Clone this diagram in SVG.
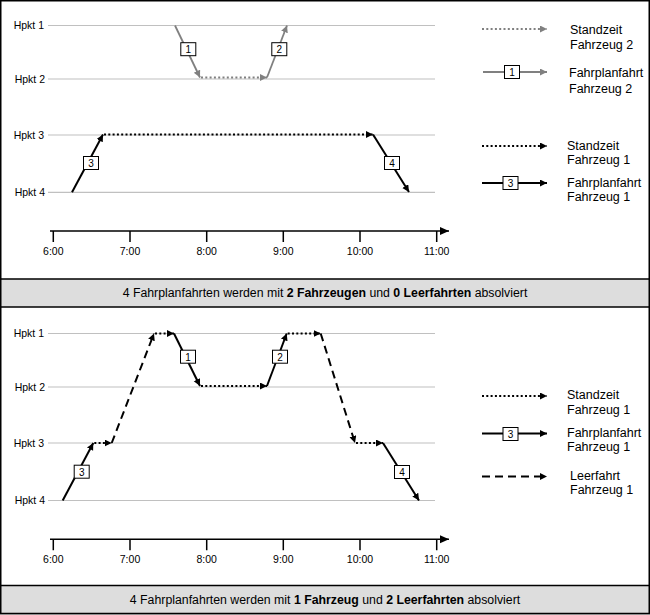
<svg xmlns="http://www.w3.org/2000/svg" width="650" height="615" viewBox="0 0 650 615">
<defs>
<style>
text{font-family:"Liberation Sans",Arial,sans-serif;fill:#000}
.hp{font-size:10.5px;text-anchor:end}
.tk{font-size:10.5px;text-anchor:middle}
.lg{font-size:12.5px}
.cap{font-size:12.3px;text-anchor:middle}
.num{font-size:10px;text-anchor:middle}
.grid{stroke:#c0c0c0;stroke-width:1.2;fill:none}
.axis{stroke:#000;stroke-width:1.5;fill:none}
.g{stroke:#808080;stroke-width:1.8;fill:none;marker-end:url(#ag)}
.b{stroke:#000;stroke-width:2;fill:none;marker-end:url(#ab)}
.gs{stroke:#808080;stroke-width:1.8;fill:none}
.bs{stroke:#000;stroke-width:2;fill:none}
.dot{stroke-dasharray:2 2.3}
.dash{stroke-dasharray:8 5}
.box{fill:#fff;stroke:#000;stroke-width:1}
</style>
<marker id="ag" markerUnits="userSpaceOnUse" markerWidth="8" markerHeight="8" refX="7" refY="3.5" orient="auto"><path d="M0,0 L7,3.5 L0,7 z" fill="#808080"/></marker>
<marker id="ab" markerUnits="userSpaceOnUse" markerWidth="8" markerHeight="8" refX="7" refY="3.5" orient="auto"><path d="M0,0 L7,3.5 L0,7 z" fill="#000"/></marker>
<marker id="ax" markerUnits="userSpaceOnUse" markerWidth="10" markerHeight="10" refX="9" refY="4" orient="auto"><path d="M0,0 L9,4 L0,8 z" fill="#000"/></marker>
</defs>

<g id="frame">
<rect x="0.75" y="0.75" width="648.5" height="612.75" fill="#fff" stroke="#000" stroke-width="1.5"/>
<rect x="0.75" y="279" width="648.5" height="28" fill="#dddddd" stroke="#000" stroke-width="1.5"/>
<rect x="0.75" y="585.5" width="648.5" height="28" fill="#dddddd" stroke="#000" stroke-width="1.5"/>
</g>

<!-- TOP CHART -->
<g id="top-grid">
<line class="grid" x1="48" y1="25.5" x2="435" y2="25.5"/>
<line class="grid" x1="48" y1="79" x2="435" y2="79"/>
<line class="grid" x1="48" y1="135" x2="435" y2="135"/>
<line class="grid" x1="48" y1="192.3" x2="435" y2="192.3"/>
<text class="hp" x="44" y="29.3">Hpkt 1</text>
<text class="hp" x="45" y="82.8">Hpkt 2</text>
<text class="hp" x="44" y="138.8">Hpkt 3</text>
<text class="hp" x="45" y="196">Hpkt 4</text>
</g>
<g id="top-axis">
<line class="axis" x1="50" y1="231" x2="449" y2="231" marker-end="url(#ax)"/>
<path class="axis" d="M53.3,231V242M130,231V242M206.7,231V242M283.3,231V242M360,231V242M436.7,231V242"/>
<text class="tk" x="53.3" y="255">6:00</text>
<text class="tk" x="130" y="255">7:00</text>
<text class="tk" x="206.7" y="255">8:00</text>
<text class="tk" x="283.3" y="255">9:00</text>
<text class="tk" x="360" y="255">10:00</text>
<text class="tk" x="436.7" y="255">11:00</text>
</g>
<g id="top-connectors">
<line class="g" x1="175" y1="25.5" x2="200" y2="77.5"/>
<line class="g dot" x1="201" y1="77.5" x2="267" y2="77.5"/>
<line class="g" x1="267" y1="77.5" x2="287" y2="25.5"/>
<line class="b" x1="72" y1="192.3" x2="103" y2="134.5"/>
<line class="b dot" x1="104" y1="134.5" x2="373" y2="134.5"/>
<line class="b" x1="373" y1="134.5" x2="409" y2="192"/>
</g>
<g id="top-f1"><rect class="box" x="180.8" y="42.7" width="15" height="13"/><text class="num" x="188.3" y="53">1</text></g>
<g id="top-f2"><rect class="box" x="271.8" y="42.7" width="15" height="13"/><text class="num" x="279.3" y="53">2</text></g>
<g id="top-f3"><rect class="box" x="83.5" y="156.5" width="15" height="13"/><text class="num" x="91" y="166.8">3</text></g>
<g id="top-f4"><rect class="box" x="384.5" y="156.5" width="15" height="13"/><text class="num" x="392" y="166.8">4</text></g>

<g id="top-legend">
<line class="g dot" x1="482" y1="29" x2="547" y2="29"/>
<text class="lg" x="570" y="33.5">Standzeit</text>
<text class="lg" x="570" y="48.5">Fahrzeug 2</text>
<line class="g" x1="483" y1="72" x2="547" y2="72"/>
<rect class="box" x="504.5" y="65.5" width="15" height="13"/><text class="num" x="512" y="75.8">1</text>
<text class="lg" x="569" y="77">Fahrplanfahrt</text>
<text class="lg" x="569" y="92.5">Fahrzeug 2</text>
<line class="b dot" x1="482" y1="146" x2="547" y2="146"/>
<text class="lg" x="567" y="149.5">Standzeit</text>
<text class="lg" x="567" y="164">Fahrzeug 1</text>
<line class="b" x1="482" y1="183" x2="547" y2="183"/>
<rect class="box" x="503" y="176.5" width="15" height="13"/><text class="num" x="510.5" y="186.8">3</text>
<text class="lg" x="567" y="187">Fahrplanfahrt</text>
<text class="lg" x="567" y="201">Fahrzeug 1</text>
</g>

<g id="caption-top">
<text class="cap" x="325" y="297">4 Fahrplanfahrten werden mit <tspan font-weight="bold">2 Fahrzeugen</tspan> und <tspan font-weight="bold">0 Leerfahrten</tspan> absolviert</text>
</g>

<!-- BOTTOM CHART -->
<g id="bottom-grid">
<line class="grid" x1="48" y1="333.5" x2="435" y2="333.5"/>
<line class="grid" x1="48" y1="387" x2="435" y2="387"/>
<line class="grid" x1="48" y1="443" x2="435" y2="443"/>
<line class="grid" x1="48" y1="500.5" x2="435" y2="500.5"/>
<text class="hp" x="44" y="337.3">Hpkt 1</text>
<text class="hp" x="45" y="390.8">Hpkt 2</text>
<text class="hp" x="44" y="446.8">Hpkt 3</text>
<text class="hp" x="45" y="504.2">Hpkt 4</text>
</g>
<g id="bottom-axis">
<line class="axis" x1="50" y1="539.3" x2="449" y2="539.3" marker-end="url(#ax)"/>
<path class="axis" d="M53.3,539.3V550.3M130,539.3V550.3M206.7,539.3V550.3M283.3,539.3V550.3M360,539.3V550.3M436.7,539.3V550.3"/>
<text class="tk" x="53.3" y="563.3">6:00</text>
<text class="tk" x="130" y="563.3">7:00</text>
<text class="tk" x="206.7" y="563.3">8:00</text>
<text class="tk" x="283.3" y="563.3">9:00</text>
<text class="tk" x="360" y="563.3">10:00</text>
<text class="tk" x="436.7" y="563.3">11:00</text>
</g>
<g id="bottom-connectors">
<line class="b" x1="62.7" y1="500.5" x2="93.3" y2="443"/>
<line class="b dot" x1="94.3" y1="443" x2="111.7" y2="443"/>
<line class="b dash" x1="111.7" y1="443" x2="154" y2="333.5"/>
<line class="b dot" x1="155" y1="333.5" x2="174" y2="333.5"/>
<line class="b" x1="174" y1="333.5" x2="200" y2="386"/>
<line class="b dot" x1="201" y1="386" x2="267" y2="386"/>
<line class="b" x1="267" y1="386" x2="286.7" y2="333.5"/>
<line class="b dot" x1="287.7" y1="333.5" x2="320.7" y2="333.5"/>
<line class="b dash" x1="320.7" y1="333.5" x2="355" y2="443"/>
<line class="b dot" x1="356" y1="443" x2="383" y2="443"/>
<line class="b" x1="383" y1="443" x2="419" y2="500.5"/>
</g>
<g id="bot-f3"><rect class="box" x="74.2" y="465.2" width="15" height="13"/><text class="num" x="81.7" y="475.5">3</text></g>
<g id="bot-f1"><rect class="box" x="180.5" y="350.2" width="15" height="13"/><text class="num" x="188" y="360.5">1</text></g>
<g id="bot-f2"><rect class="box" x="272.5" y="350.2" width="15" height="13"/><text class="num" x="280" y="360.5">2</text></g>
<g id="bot-f4"><rect class="box" x="394.5" y="465.5" width="15" height="13"/><text class="num" x="402" y="475.8">4</text></g>

<g id="bottom-legend">
<line class="b dot" x1="482" y1="396" x2="547" y2="396"/>
<text class="lg" x="567" y="399">Standzeit</text>
<text class="lg" x="567" y="414">Fahrzeug 1</text>
<line class="b" x1="482" y1="433.5" x2="547" y2="433.5"/>
<rect class="box" x="503" y="427.5" width="15" height="13"/><text class="num" x="510.5" y="437.8">3</text>
<text class="lg" x="567" y="436.5">Fahrplanfahrt</text>
<text class="lg" x="567" y="451">Fahrzeug 1</text>
<line class="b dash" x1="482" y1="476.5" x2="547" y2="476.5"/>
<text class="lg" x="570" y="479.5">Leerfahrt</text>
<text class="lg" x="570" y="494">Fahrzeug 1</text>
</g>

<g id="caption-bottom">
<text class="cap" x="325" y="604">4 Fahrplanfahrten werden mit <tspan font-weight="bold">1 Fahrzeug</tspan> und <tspan font-weight="bold">2 Leerfahrten</tspan> absolviert</text>
</g>
</svg>
